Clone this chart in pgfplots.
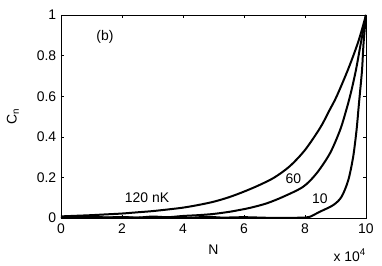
\documentclass[border=0pt]{standalone}
\usepackage{fontspec}
\setmainfont{Liberation Sans}
\usepackage{pgfplots}
\pgfplotsset{compat=1.18}
\begin{document}
\begin{tikzpicture}
\fontsize{14}{16}\selectfont
\begin{axis}[
  scale only axis,
  width=305bp, height=203bp,
  xmin=0, xmax=10, ymin=0, ymax=1,
  xtick={0,2,4,6,8,10}, ytick={0,0.2,0.4,0.6,0.8,1},
  yticklabels={0,0.2,0.4,0.6,0.8,1},
  tick align=inside, tickwidth=3.5bp,
  axis line style={line width=0.6pt},
  every tick/.style={black, line width=0.5pt},
  /pgf/number format/assume math mode=true,
  tick label style={font=\fontsize{14}{16}\selectfont},
  xticklabel style={yshift=-1bp},
  xlabel={N}, ylabel={C$_\mathrm{n}$},
  xlabel style={at={(axis description cs:0.5,-0.155)}, anchor=center, font=\fontsize{14}{16}\selectfont},
  ylabel style={at={(axis description cs:-0.158,0.5)}, anchor=center, font=\fontsize{14}{16}\selectfont},
  clip=true,
]
\addplot[black, line width=2pt, smooth, tension=0.5] coordinates {
(0,0.008) (0.5,0.011) (1,0.014) (1.5,0.018) (2,0.022) (2.5,0.028) (3,0.034) (3.5,0.042) (4,0.051) (4.5,0.064) (5,0.080) (5.5,0.102) (6,0.130) (6.5,0.162) (7,0.200) (7.5,0.255) (8,0.335) (8.5,0.445) (8.8,0.530) (9.04,0.600) (9.42,0.735) (9.75,0.870) (10,1)};
\addplot[black, line width=2pt, smooth, tension=0.5] coordinates {
(0,0.004) (0.5,0.002) (1,0.006) (1.5,0.003) (2,0.005) (2.5,0.002) (3,0.007) (3.5,0.004) (4,0.010) (4.5,0.014) (5,0.020) (5.5,0.030) (5.87,0.040) (6.2,0.050) (6.74,0.072) (7.29,0.105) (7.94,0.154) (8.38,0.220) (8.82,0.319) (9.15,0.433) (9.34,0.525) (9.5,0.614) (9.67,0.729) (9.83,0.861) (10,1)};
\addplot[black, line width=2pt, smooth, tension=0.5] coordinates {
(0,0.002) (0.7,0.005) (1.2,0.001) (2,0.003) (2.8,0.001) (3.6,0.004) (4.2,0.001) (4.8,0.006) (5.3,0.002) (6,0.004) (6.8,0.001) (7.5,0.001) (8,0.002) (8.16,0.006) (8.49,0.031) (8.93,0.064) (9.20,0.105) (9.42,0.187) (9.58,0.302) (9.69,0.433) (9.75,0.532) (9.80,0.614) (9.87,0.729) (9.92,0.861) (10,1)};
\node[font=\fontsize{14}{16}\selectfont] at (axis cs:1.44,0.89) {(b)};
\node[font=\fontsize{14}{16}\selectfont] at (axis cs:2.82,0.099) {120 nK};
\node[font=\fontsize{14}{16}\selectfont] at (axis cs:7.62,0.196) {60};
\node[font=\fontsize{14}{16}\selectfont] at (axis cs:8.49,0.097) {10};
\end{axis}
\node[anchor=north east, inner sep=0pt, font=\fontsize{14}{16}\selectfont] at ([yshift=-31bp]current axis.south east) {x 10\textsuperscript{4}};
\pgfresetboundingbox
\useasboundingbox ([xshift=-61bp,yshift=-48bp]current axis.south west) rectangle ([xshift=16bp,yshift=15bp]current axis.north east);
\end{tikzpicture}
\end{document}
